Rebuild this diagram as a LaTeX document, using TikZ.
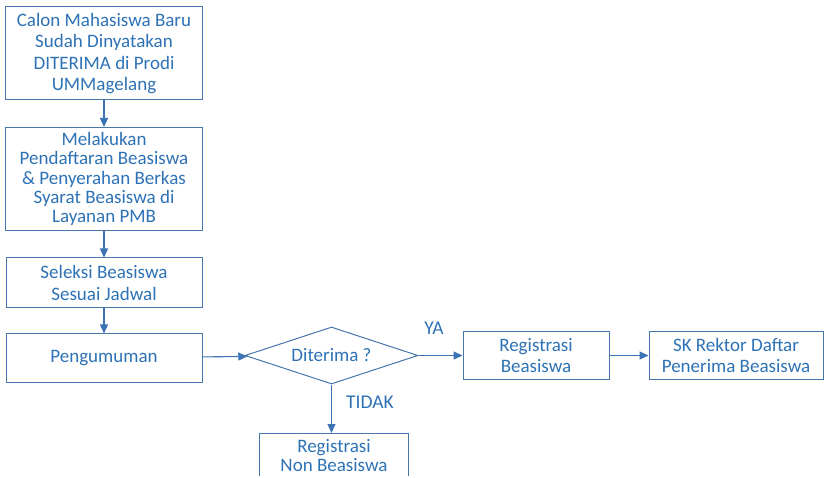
\documentclass[tikz,border=0pt]{standalone}
\usepackage{fontspec}
\setmainfont{Carlito}
\usetikzlibrary{shapes.geometric,arrows.meta}
\definecolor{bord}{RGB}{70,118,170}
\definecolor{txt}{RGB}{46,114,182}
\definecolor{arr}{RGB}{60,115,180}
\begin{document}
\begin{tikzpicture}[x=1pt,y=-1pt,
  every node/.style={font=\fontsize{19}{21.5}\selectfont, text=txt},
  box/.style={draw=bord, line width=1pt, align=center, inner sep=0pt, fill=white},
  openbox/.style={align=center, inner sep=0pt},
  dia/.style={draw=bord, line width=1pt, diamond, aspect=3, inner sep=0pt, minimum width=173pt, minimum height=57pt},
  flow/.style={draw=arr, line width=1.1pt, -{Triangle[length=9pt,width=8pt]}},
  lbl/.style={font=\fontsize{19.5}{21}\selectfont}]
\useasboundingbox (0,0) rectangle (838,478);
\node[box, minimum width=197pt, minimum height=93pt] (b1) at (104,53.5)
  {Calon Mahasiswa Baru\\Sudah Dinyatakan\\DITERIMA di Prodi\\UMMagelang};
\node[box, minimum width=197pt, minimum height=103pt, font=\fontsize{19}{19.3}\selectfont] (b2) at (104,179)
  {Melakukan\\Pendaftaran Beasiswa\\\& Penyerahan Berkas\\Syarat Beasiswa di\\Layanan PMB};
\node[box, minimum width=196pt, minimum height=50pt] (b3) at (104,283)
  {Seleksi Beasiswa\\Sesuai Jadwal};
\node[box, minimum width=196pt, minimum height=48pt] (b4) at (104,358)
  {Pengumuman};
\node[dia] (d) at (331.5,355.5) {Diterima ?};
\node[box, minimum width=146pt, minimum height=47pt] (r1) at (536,355.5)
  {Registrasi\\Beasiswa};
\node[box, minimum width=174pt, minimum height=47pt] (sk) at (736,355.5)
  {SK Rektor Daftar\\Penerima Beasiswa};
\node[openbox, minimum width=148pt, minimum height=45pt, anchor=north, font=\fontsize{19}{19.5}\selectfont] (r2) at (334,433)
  {Registrasi\\Non Beasiswa};
\draw[draw=bord, line width=1pt] ([yshift=2pt]r2.south west) -- (r2.north west) -- (r2.north east) -- ([yshift=2pt]r2.south east);
\draw[flow] (b1) -- (b2);
\draw[flow] (b2) -- (b3);
\draw[flow] (b3) -- (b4);
\draw[flow] (b4) -- (d);
\draw[flow] (d) -- (r1);
\draw[flow] (r1) -- (sk);
\draw[flow] (d.south) -- (d.south |- r2.north);
\node[lbl] (ya) at (434,328) {YA};
\node[lbl] (tidak) at (370,402) {TIDAK};
\end{tikzpicture}
\end{document}
